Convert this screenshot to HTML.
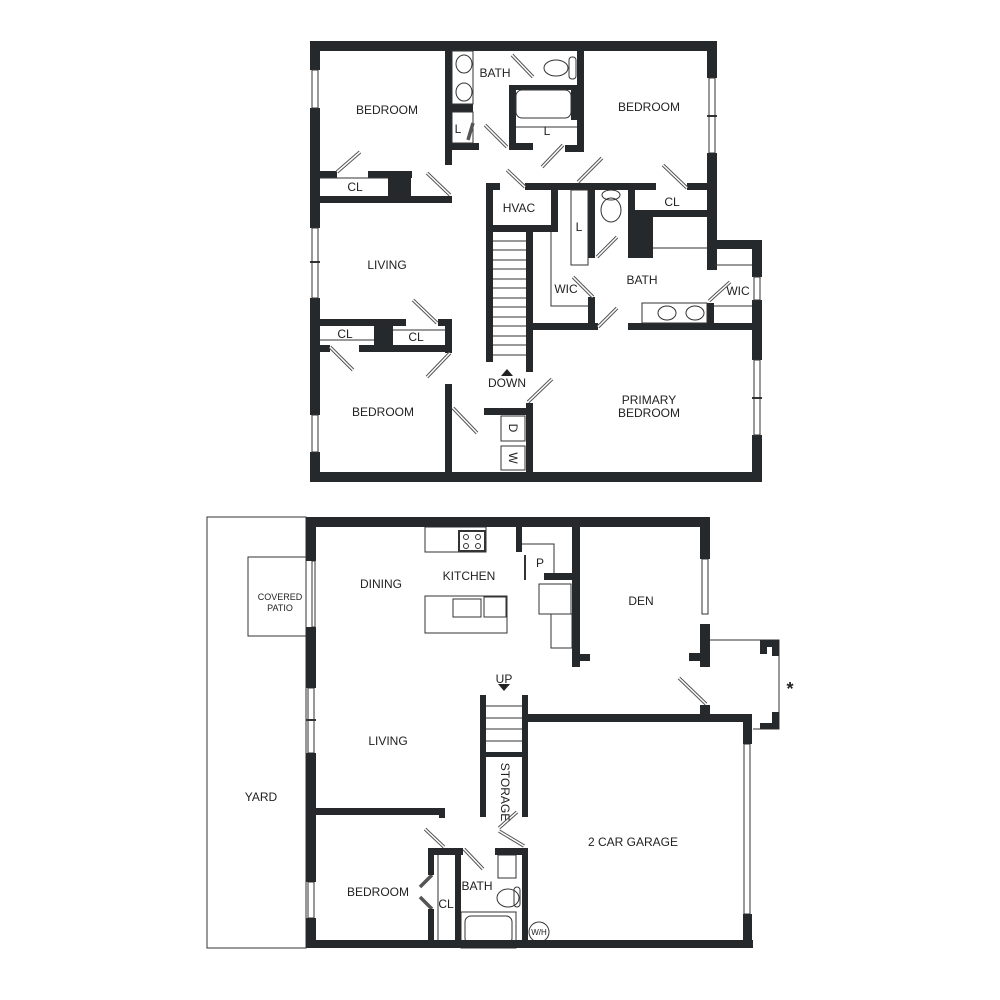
<!DOCTYPE html>
<html><head><meta charset="utf-8"><style>
html,body{margin:0;padding:0;background:#fff;}
svg{display:block}
text{font-family:"Liberation Sans",sans-serif;font-size:12px;fill:#222;text-anchor:middle}
.w{fill:#26292c}
.t{fill:none;stroke:#333;stroke-width:1}
.d{stroke:#555;stroke-width:3.5}
.d2{stroke:#fff;stroke-width:1.5}
</style></head><body>
<svg width="1000" height="1000" viewBox="0 0 1000 1000" xmlns="http://www.w3.org/2000/svg">
<!-- ============ UPPER FLOOR ============ -->
<g class="w">
<rect x="310" y="41" width="407" height="10"/>
<rect x="310" y="41" width="10" height="29"/>
<rect x="310" y="108" width="10" height="120"/>
<rect x="310" y="298" width="10" height="117"/>
<rect x="310" y="452" width="10" height="30"/>
<rect x="310" y="472" width="452" height="10"/>
<rect x="707" y="41" width="10" height="37"/>
<rect x="707" y="153" width="10" height="117"/>
<rect x="707" y="240" width="55" height="9"/>
<rect x="752" y="240" width="10" height="37"/>
<rect x="752" y="300" width="10" height="60"/>
<rect x="752" y="435" width="10" height="47"/>
<!-- bedroom1 closet -->
<rect x="320" y="171" width="17" height="7"/>
<rect x="368" y="171" width="44" height="7"/>
<rect x="388" y="171" width="23" height="30"/>
<rect x="320" y="196" width="132" height="7"/>
<!-- bath -->
<rect x="445" y="51" width="7" height="114"/>
<rect x="452" y="104" width="21" height="8"/>
<rect x="445" y="143" width="34" height="7"/>
<rect x="509" y="85" width="7" height="65"/>
<rect x="509" y="85" width="68" height="5"/>
<rect x="571" y="90" width="6" height="30"/>
<rect x="509" y="143" width="24" height="7"/>
<rect x="577" y="51" width="7" height="101"/>
<rect x="565" y="145" width="19" height="7"/>
<!-- hall wall -->
<rect x="525" y="183" width="131" height="7"/>
<rect x="687" y="183" width="27" height="7"/>
<!-- hvac / stair -->
<rect x="486" y="183" width="7" height="179"/>
<rect x="486" y="183" width="14" height="7"/>
<rect x="493" y="225" width="65" height="7"/>
<rect x="551" y="190" width="7" height="42"/>
<rect x="526" y="232" width="7" height="140"/>
<!-- L closet / wic -->
<rect x="588" y="190" width="7" height="68"/>
<rect x="588" y="297" width="7" height="33"/>
<rect x="533" y="323" width="65" height="7"/>
<rect x="628" y="190" width="7" height="68"/>
<rect x="628" y="215" width="25" height="43"/>
<rect x="635" y="210" width="73" height="7"/>
<rect x="707" y="240" width="7" height="30"/>
<rect x="628" y="323" width="124" height="7"/>
<rect x="707" y="303" width="7" height="22"/>
<!-- living closets -->
<rect x="320" y="319" width="86" height="7"/>
<rect x="374" y="319" width="19" height="33"/>
<rect x="359" y="345" width="93" height="7"/>
<rect x="320" y="345" width="10" height="7"/>
<rect x="438" y="319" width="14" height="7"/>
<rect x="445" y="319" width="7" height="34"/>
<rect x="445" y="384" width="7" height="88"/>
<rect x="484" y="408" width="49" height="7"/>
<rect x="526" y="403" width="7" height="69"/>
</g>
<g class="t">
<!-- windows upper -->
<rect x="312" y="70" width="6" height="38"/><rect x="312" y="228" width="6" height="70"/><line x1="310" y1="262" x2="320" y2="262" stroke-width="2"/>
<rect x="312" y="415" width="6" height="37"/>
<rect x="709" y="78" width="6" height="75"/><line x1="707" y1="116" x2="717" y2="116" stroke-width="2"/>
<rect x="754" y="277" width="6" height="23"/><rect x="754" y="360" width="6" height="75"/><line x1="752" y1="398" x2="762" y2="398" stroke-width="2"/>
<line x1="320" y1="178" x2="388" y2="178"/>
<rect x="452" y="51" width="21" height="53"/>
<rect x="452" y="112" width="21" height="31"/>
<rect x="516" y="90" width="55" height="28" rx="6"/>
<line x1="516" y1="127" x2="577" y2="127"/>
<ellipse cx="464" cy="64" rx="8" ry="9"/><ellipse cx="464" cy="92" rx="8" ry="9"/>
<ellipse cx="556" cy="68" rx="12" ry="8"/><rect x="569" y="57" width="7" height="22" rx="3"/>
<ellipse cx="611" cy="210" rx="10" ry="12"/><ellipse cx="611" cy="195" rx="9" ry="5"/>
<polyline points="551,232 551,306 588,306"/>
<rect x="571" y="190" width="17" height="75"/>
<line x1="653" y1="248" x2="707" y2="248"/>
<rect x="642" y="303" width="65" height="20"/>
<ellipse cx="667" cy="313" rx="9" ry="7"/><ellipse cx="695" cy="313" rx="9" ry="7"/>
<line x1="714" y1="265" x2="752" y2="265"/><line x1="714" y1="306" x2="752" y2="306"/>
<line x1="320" y1="340" x2="374" y2="340"/><line x1="393" y1="330" x2="445" y2="330"/>
<rect x="501" y="416" width="24" height="25"/><rect x="501" y="446" width="24" height="24"/>
</g>
<!-- stairs treads -->
<g stroke="#333" stroke-width="1">
<line x1="493" y1="241" x2="526" y2="241"/><line x1="493" y1="250" x2="526" y2="250"/><line x1="493" y1="260" x2="526" y2="260"/><line x1="493" y1="269" x2="526" y2="269"/><line x1="493" y1="279" x2="526" y2="279"/><line x1="493" y1="288" x2="526" y2="288"/><line x1="493" y1="298" x2="526" y2="298"/><line x1="493" y1="307" x2="526" y2="307"/><line x1="493" y1="317" x2="526" y2="317"/><line x1="493" y1="326" x2="526" y2="326"/><line x1="493" y1="336" x2="526" y2="336"/><line x1="493" y1="345" x2="526" y2="345"/><line x1="493" y1="355" x2="526" y2="355"/>
</g>
<polygon points="507,369 501,376 513,376" fill="#222"/>
<!-- doors upper -->
<g class="d">
<line x1="337" y1="172" x2="360" y2="152"/><line x1="427" y1="173" x2="450" y2="195"/><line x1="485" y1="125" x2="507" y2="147"/><line x1="542" y1="167" x2="563" y2="145"/><line x1="512" y1="55" x2="533" y2="77"/><line x1="473" y1="123" x2="468" y2="140"/><line x1="507" y1="170" x2="525" y2="187"/><line x1="578" y1="182" x2="602" y2="158"/><line x1="663" y1="165" x2="687" y2="188"/><line x1="597" y1="257" x2="617" y2="237"/><line x1="573" y1="277" x2="593" y2="297"/><line x1="598" y1="327" x2="617" y2="308"/><line x1="709" y1="301" x2="730" y2="282"/><line x1="413" y1="300" x2="437" y2="323"/><line x1="330" y1="347" x2="353" y2="370"/><line x1="427" y1="377" x2="450" y2="353"/><line x1="453" y1="408" x2="477" y2="433"/><line x1="528" y1="402" x2="552" y2="379"/>
<!-- lower -->
<line x1="679" y1="678" x2="706" y2="704"/><line x1="425" y1="829" x2="444" y2="847"/><line x1="464" y1="849" x2="483" y2="869"/><line x1="499" y1="828" x2="517" y2="812"/><line x1="499" y1="831" x2="524" y2="846"/><line x1="420" y1="887" x2="432" y2="875"/><line x1="420" y1="897" x2="432" y2="909"/>
</g>
<g class="d2">
<line x1="337" y1="172" x2="360" y2="152"/><line x1="427" y1="173" x2="450" y2="195"/><line x1="485" y1="125" x2="507" y2="147"/><line x1="542" y1="167" x2="563" y2="145"/><line x1="512" y1="55" x2="533" y2="77"/><line x1="507" y1="170" x2="525" y2="187"/><line x1="578" y1="182" x2="602" y2="158"/><line x1="663" y1="165" x2="687" y2="188"/><line x1="597" y1="257" x2="617" y2="237"/><line x1="573" y1="277" x2="593" y2="297"/><line x1="598" y1="327" x2="617" y2="308"/><line x1="709" y1="301" x2="730" y2="282"/><line x1="413" y1="300" x2="437" y2="323"/><line x1="330" y1="347" x2="353" y2="370"/><line x1="427" y1="377" x2="450" y2="353"/><line x1="453" y1="408" x2="477" y2="433"/><line x1="528" y1="402" x2="552" y2="379"/>
<line x1="679" y1="678" x2="706" y2="704"/><line x1="425" y1="829" x2="444" y2="847"/><line x1="464" y1="849" x2="483" y2="869"/><line x1="499" y1="828" x2="517" y2="812"/><line x1="499" y1="831" x2="524" y2="846"/>
</g>
<!-- labels upper -->
<text x="387" y="114">BEDROOM</text><text x="649" y="111">BEDROOM</text><text x="495" y="77">BATH</text>
<text x="387" y="269">LIVING</text><text x="519" y="212">HVAC</text>
<text x="458" y="133">L</text><text x="547" y="135">L</text><text x="579" y="231">L</text>
<text x="355" y="191">CL</text><text x="672" y="206">CL</text><text x="642" y="284">BATH</text>
<text x="566" y="293">WIC</text><text x="738" y="295">WIC</text><text x="345" y="338">CL</text><text x="416" y="341">CL</text>
<text x="507" y="387">DOWN</text><text x="383" y="416">BEDROOM</text>
<text x="649" y="404">PRIMARY</text><text x="649" y="417">BEDROOM</text>
<text x="513" y="428" transform="rotate(90 513 428)" dy="4">D</text><text x="513" y="458" transform="rotate(90 513 458)" dy="4">W</text>

<!-- ============ LOWER FLOOR ============ -->
<g class="t">
<rect x="207" y="517" width="99" height="431"/>
<rect x="248" y="557" width="58" height="79" fill="#fff"/>
<rect x="312" y="561" width="3" height="66"/>
<rect x="308" y="688" width="6" height="65"/><line x1="306" y1="720" x2="316" y2="720" stroke-width="2"/>
<rect x="308" y="882" width="6" height="36"/>
<rect x="425" y="527" width="61" height="25"/>
<rect x="459" y="531" width="26" height="20" stroke-width="2"/>
<circle cx="466" cy="537" r="2.5"/><circle cx="478" cy="537" r="2.5"/><circle cx="466" cy="546" r="2.5"/><circle cx="478" cy="546" r="2.5"/>
<polyline points="522,544 554,544 554,577"/>
<line x1="525" y1="555" x2="525" y2="580" stroke-width="2"/>
<rect x="539" y="584" width="32" height="30"/>
<rect x="551" y="614" width="21" height="34"/>
<rect x="425" y="596" width="82" height="37"/>
<rect x="453" y="599" width="28" height="18"/>
<rect x="484" y="597" width="22" height="20"/>
<rect x="702" y="559" width="6" height="55"/>
<polyline points="710,640 779,640 779,729 753,729"/>
<rect x="744" y="744" width="6" height="170"/>
<rect x="498" y="855" width="18" height="23"/>
<ellipse cx="508" cy="898" rx="11" ry="9"/><rect x="514" y="887" width="6" height="20" rx="3"/>
<rect x="461" y="912" width="55" height="36"/><rect x="465" y="916" width="47" height="28" rx="6"/>
<line x1="438" y1="855" x2="438" y2="948"/>
<circle cx="539" cy="932" r="10"/>
</g>
<g class="w">
<rect x="306" y="517" width="404" height="10"/>
<rect x="306" y="517" width="10" height="44"/>
<rect x="306" y="627" width="10" height="61"/>
<rect x="306" y="753" width="10" height="129"/>
<rect x="306" y="918" width="10" height="30"/>
<rect x="306" y="940" width="447" height="8"/>
<rect x="516" y="527" width="6" height="25"/>
<rect x="544" y="573" width="30" height="7"/>
<rect x="572" y="527" width="8" height="140"/>
<rect x="572" y="654" width="18" height="7"/>
<rect x="700" y="517" width="10" height="42"/>
<rect x="700" y="624" width="10" height="43"/>
<rect x="689" y="653" width="21" height="8"/>
<rect x="760" y="640" width="19" height="7"/><rect x="772" y="640" width="7" height="16"/><rect x="760" y="640" width="7" height="14"/>
<rect x="760" y="723" width="19" height="6"/><rect x="772" y="712" width="7" height="17"/>
<rect x="526" y="714" width="226" height="8"/>
<rect x="700" y="705" width="10" height="16"/>
<rect x="743" y="714" width="9" height="30"/>
<rect x="743" y="914" width="9" height="34"/>
<rect x="480" y="695" width="6" height="122"/>
<rect x="522" y="695" width="6" height="122"/>
<rect x="486" y="752" width="36" height="5"/>
<rect x="522" y="848" width="6" height="100"/>
<rect x="316" y="808" width="129" height="7"/>
<rect x="439" y="808" width="6" height="10"/>
<rect x="428" y="848" width="6" height="27"/>
<rect x="428" y="909" width="6" height="39"/>
<rect x="428" y="848" width="35" height="7"/>
<rect x="455" y="848" width="6" height="100"/>
<rect x="495" y="848" width="33" height="7"/>
</g>
<g stroke="#333" stroke-width="1">
<line x1="486" y1="706" x2="522" y2="706"/><line x1="486" y1="718" x2="522" y2="718"/><line x1="486" y1="729" x2="522" y2="729"/><line x1="486" y1="741" x2="522" y2="741"/>
</g>
<polygon points="498,684 510,684 504,691" fill="#222"/>
<text x="280" y="600" style="font-size:9px">COVERED</text><text x="280" y="611" style="font-size:9px">PATIO</text>
<text x="381" y="588">DINING</text><text x="469" y="580">KITCHEN</text><text x="540" y="567">P</text>
<text x="641" y="605">DEN</text><text x="504" y="683">UP</text>
<text x="388" y="745">LIVING</text><text x="261" y="801">YARD</text>
<text x="505" y="792" transform="rotate(90 505 792)" dy="4">STORAGE</text>
<text x="633" y="846">2 CAR GARAGE</text>
<text x="378" y="896">BEDROOM</text><text x="477" y="890">BATH</text><text x="446" y="908">CL</text>
<text x="539" y="935" style="font-size:8px">W/H</text>
<text x="790" y="695" style="font-size:18px;font-weight:bold">*</text>
</svg>
</body></html>
